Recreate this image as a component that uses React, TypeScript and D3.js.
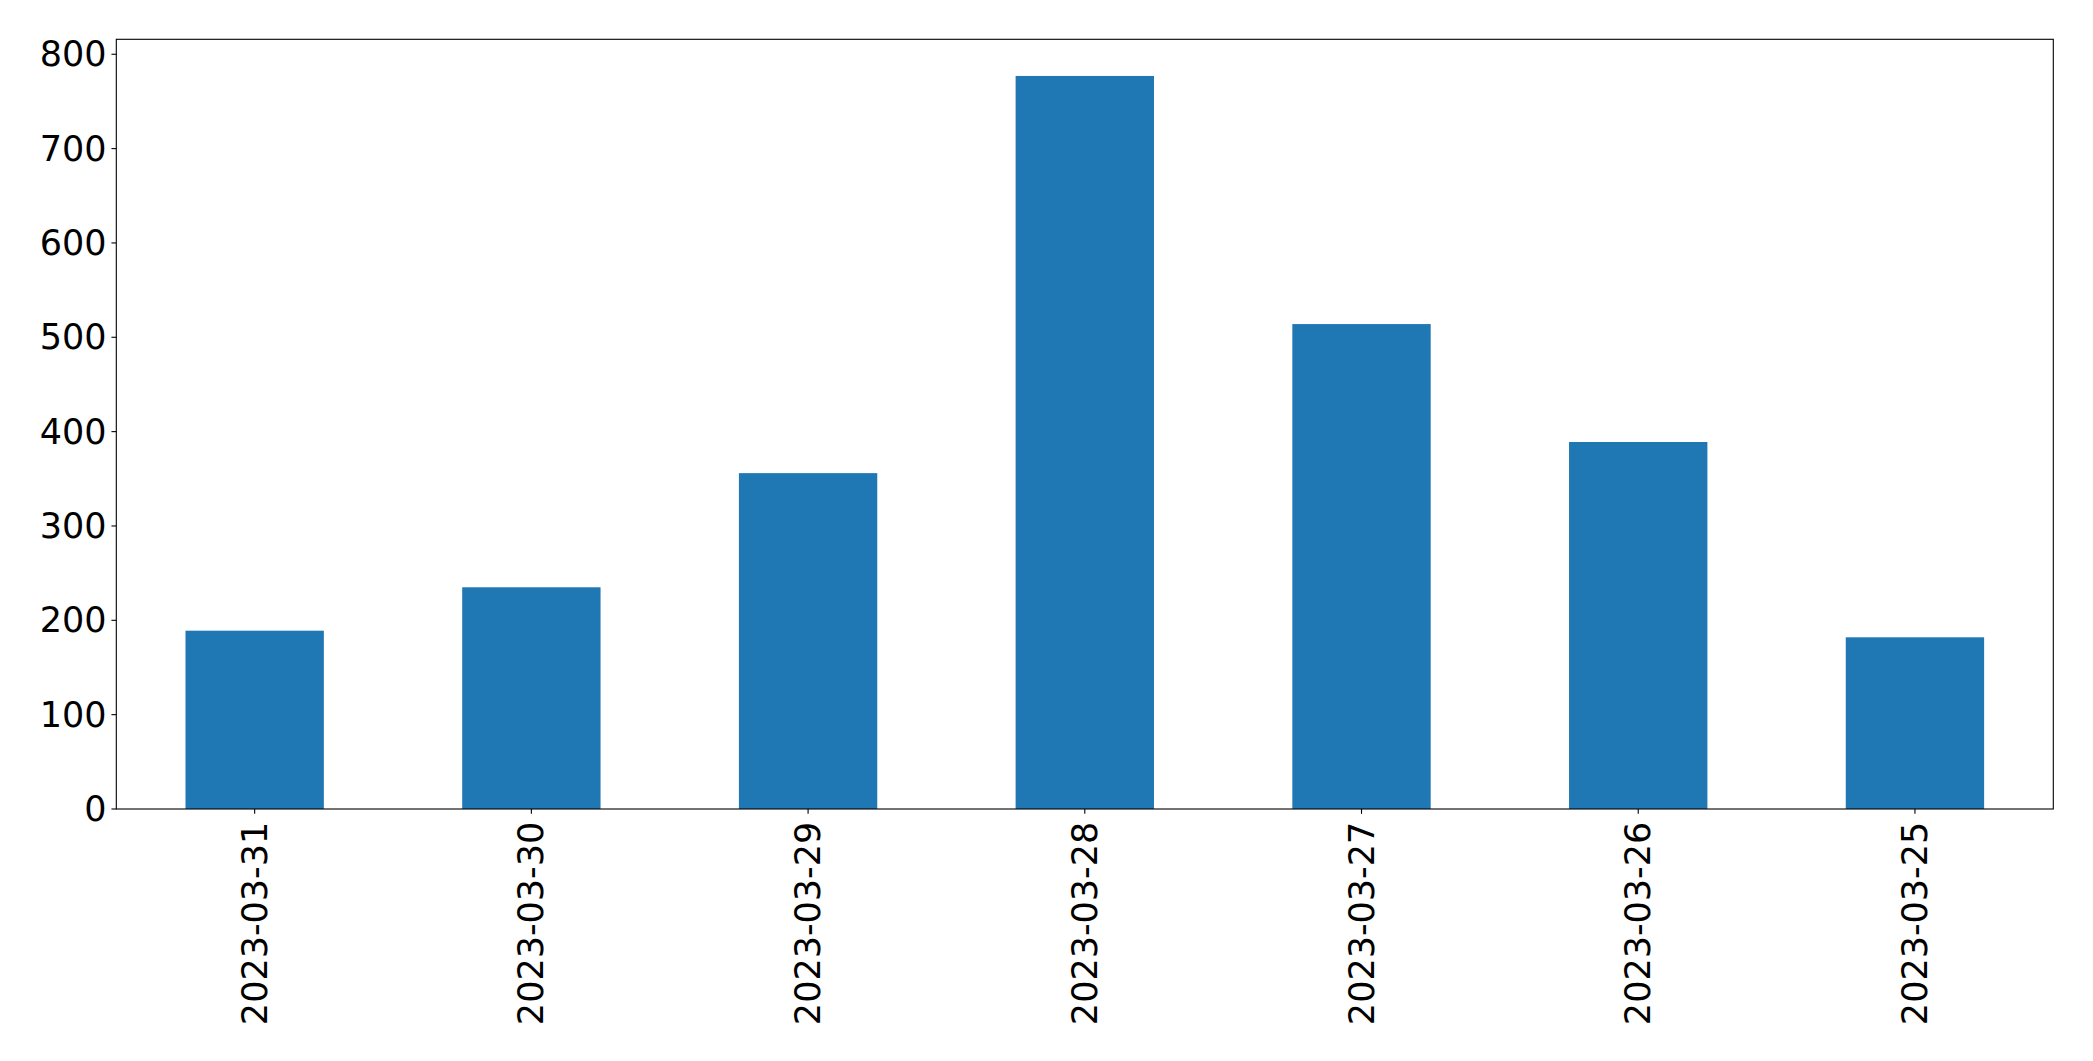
import React from "react";
import * as d3 from "d3";

const categories = ["2023-03-31", "2023-03-30", "2023-03-29", "2023-03-28", "2023-03-27", "2023-03-26", "2023-03-25"];
const values = [189, 235, 356, 777, 514, 389, 182];
const yTicks = [0, 100, 200, 300, 400, 500, 600, 700, 800];

const W = 2093;
const H = 1061;
const margin = { left: 116.3, right: 2093 - 2053.3, top: 39.3, bottom: 1061 - 809 };

export default function App() {
  const x0 = margin.left;
  const x1 = W - margin.right;
  const y0 = H - margin.bottom;
  const y1 = margin.top;
  const x = d3.scaleLinear().domain([-0.5, categories.length - 0.5]).range([x0, x1]);
  const yMax = d3.max(values)! * 1.05;
  const y = d3.scaleLinear().domain([0, yMax]).range([y0, y1]);
  const tick = 4.86;
  const pad = 4.86;
  const font = "'DejaVu Sans', sans-serif";
  const fs = 35;
  return (
    <svg width={W} height={H} style={{ position: "absolute", left: 0, top: 0, background: "#fff" }}>
      <rect x={0} y={0} width={W} height={H} fill="#fff" />
      {values.map((v, i) => (
        <rect key={i} x={x(i - 0.25)} width={x(i + 0.25) - x(i - 0.25)} y={y(v)} height={y(0) - y(v)} fill="#1f77b4" />
      ))}
      <rect x={x0} y={y1} width={x1 - x0} height={y0 - y1} fill="none" stroke="#000" strokeWidth={1.1} />
      {yTicks.map((t) => (
        <g key={t}>
          <line x1={x0 - tick} x2={x0} y1={y(t)} y2={y(t)} stroke="#000" strokeWidth={1.1} />
          <text x={x0 - tick - pad} y={y(t)} textAnchor="end" dominantBaseline="central" fontFamily={font} fontSize={fs} fill="#000">
            {t}
          </text>
        </g>
      ))}
      {categories.map((c, i) => (
        <g key={c}>
          <line x1={x(i)} x2={x(i)} y1={y0} y2={y0 + tick} stroke="#000" strokeWidth={1.1} />
          <text
            transform={`translate(${x(i)},${y0 + tick + pad + 3}) rotate(-90)`}
            textAnchor="end"
            dominantBaseline="central"
            fontFamily={font}
            fontSize={fs}
            fill="#000"
          >
            {c}
          </text>
        </g>
      ))}
    </svg>
  );
}
